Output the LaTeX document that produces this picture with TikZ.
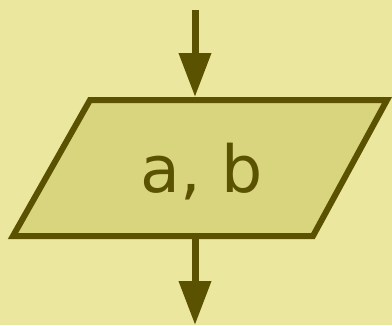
\documentclass[tikz,border=0pt]{standalone}
\usepackage{fontspec}
\setsansfont{DejaVu Sans}
\usepackage{tikz}
\usetikzlibrary{arrows.meta, calc}
\definecolor{IOBack}{RGB}{235, 231, 159}
\definecolor{IOFill}{RGB}{216, 213, 126}
\definecolor{IODark}{RGB}{90, 82, 0}

\tikzset{
  flow/.style={IODark, line width=7pt, -{Triangle[length=44pt, width=31pt]}},
  iobox/.style={draw=IODark, fill=IOFill, line width=6pt, line join=miter}
}

\begin{document}
\begin{tikzpicture}[x=1pt,y=1pt]
  \fill[IOBack] (0,0) rectangle (392,325);
  \path[use as bounding box] (0,0) rectangle (392,325);

  % Input box
  \draw[iobox] (90,225) -- (387,225) -- (313,89) -- (13,89) -- cycle;
  \node[anchor=base, inner sep=0pt, text=IODark] (io) at (202,133) {
    {\fontsize{65}{70}\selectfont\sffamily a, b}
  };

  % Connectors
  \coordinate (start) at (195,315);
  \coordinate (ioTop) at (195,228);
  \coordinate (ioBottom) at (195,86);
  \coordinate (stop) at (195,0);
  \draw[flow] (start) -- (ioTop);
  \draw[flow] (ioBottom) -- (stop);
\end{tikzpicture}
\end{document}
